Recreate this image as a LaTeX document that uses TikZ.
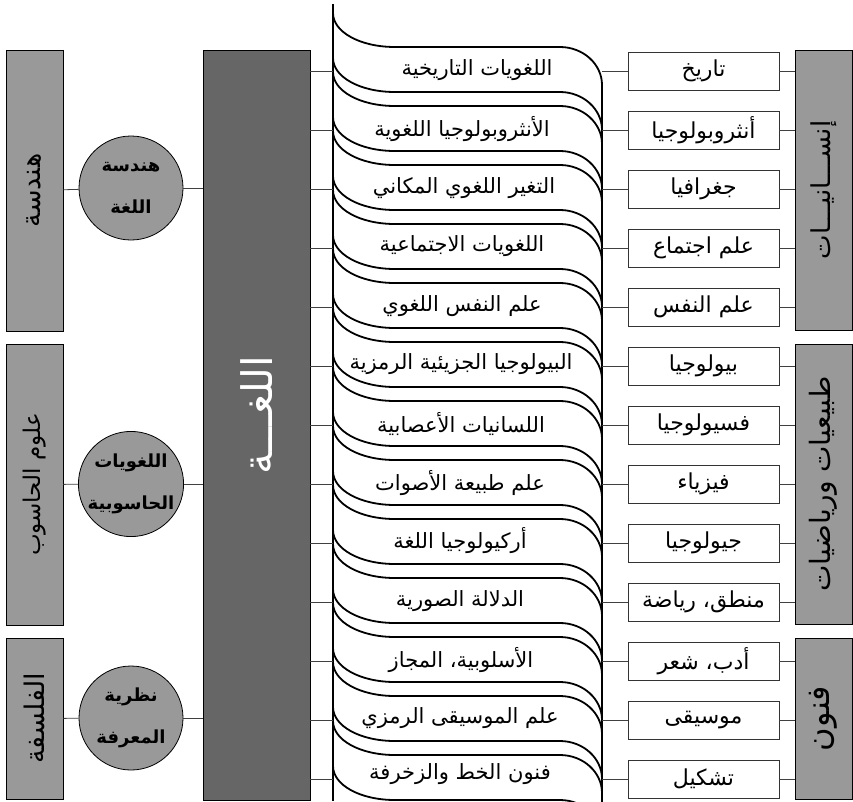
\documentclass[tikz,border=0pt]{standalone}
\usepackage{fontspec}
\usepackage{tikz}
\newfontfamily\arabicfont[Script=Arabic]{DejaVu Sans}
\TeXXeTstate=1
\definecolor{langgray}{RGB}{102,102,102}
\definecolor{fieldgray}{RGB}{153,153,153}
\newcommand{\artext}[1]{\beginR #1\endR}

\begin{document}
\begin{tikzpicture}[x=1pt,y=-1pt,
	bar/.style={draw=black, fill=fieldgray, line width=0.8pt, minimum width=57pt, inner sep=0pt},
	barlabel/.style={rotate=90, font=\arabicfont\fontsize{23}{26}\selectfont},
	hub/.style={circle, draw=black, fill=fieldgray, line width=0.8pt, minimum size=104pt, inner sep=0pt, align=center, font=\arabicfont\bfseries\fontsize{18}{42}\selectfont},
	subject/.style={draw=black!80, fill=white, line width=0.8pt, minimum width=151pt, minimum height=38pt, inner sep=0pt, font=\arabicfont\fontsize{22}{24}\selectfont},
	bandtext/.style={font=\arabicfont\fontsize{21}{24}\selectfont},
	link/.style={black!75, line width=0.8pt},
	bandline/.style={black, line width=1.8pt},
	band/.pic={\draw[bandline] (0,-58) .. controls (0,-39) and (27,-24) .. (62,-24) -- (227,-24) .. controls (250,-24) and (269,-7) .. (269,14) -- (269,59) .. controls (269,38) and (250,21) .. (227,21) -- (62,21) .. controls (27,21) and (0,6) .. (0,-13) -- cycle;}]
	\useasboundingbox (0,0) rectangle (853,801);
	\clip (0,0) rectangle (853,801);

	% left bars and hubs
	\node[bar, minimum height=281pt] (eng) at (34.5,190.5) {};
	\node[bar, minimum height=281pt] (comp) at (34.5,484.5) {};
	\node[bar, minimum height=161pt] (phil) at (34.5,718.5) {};
	\node[barlabel, font=\arabicfont\fontsize{27}{30}\selectfont] (engl) at (eng.center) {\artext{هندسة}};
	\node[barlabel] (compl) at (comp.center) {\artext{علوم الحاسوب}};
	\node[barlabel, font=\arabicfont\fontsize{27}{30}\selectfont] (phill) at (phil.center) {\artext{الفلسفة}};
	\node[hub] (h1) at (131,188) {\artext{هندسة}\\\artext{اللغة}};
	\node[hub] (h2) at (131,484) {\artext{اللغويات}\\\artext{الحاسوبية}};
	\node[hub] (h3) at (131,718) {\artext{نظرية}\\\artext{المعرفة}};
	\node[draw=black, fill=langgray, line width=0.8pt, minimum width=107pt, minimum height=750pt, inner sep=0pt] (lang) at (256.5,425) {};
	\node[rotate=90, text=white, font=\arabicfont\fontsize{42}{46}\selectfont] (langl) at (256.5,415) {\artext{اللغـــة}};

	\draw[link] (eng) -- (h1);
	\draw[link] (h1) -- (lang.west |- h1);
	\draw[link] (comp) -- (h2);
	\draw[link] (h2) -- (lang.west |- h2);
	\draw[link] (phil) -- (h3);
	\draw[link] (h3) -- (lang.west |- h3);

	% right bars
	\node[bar, minimum height=280pt] (hum) at (823.5,190) {};
	\node[bar, minimum height=280pt] (nat) at (823.5,484) {};
	\node[bar, minimum height=161pt] (arts) at (823.5,718.5) {};
	\node[barlabel, font=\arabicfont\fontsize{26}{30}\selectfont] (huml) at (hum.center) {\artext{إنســـانيـــات}};
	\node[barlabel, font=\arabicfont\fontsize{28}{30}\selectfont] (natl) at (nat.center) {\artext{طبيعيات ورياضيات}};
	\node[barlabel, font=\arabicfont\fontsize{32}{34}\selectfont] (artsl) at (arts.center) {\artext{فنون}};

	% subjects
	\node[subject] (s1) at (703.5,71) {\artext{تاريخ}};
	\node[subject] (s2) at (703.5,130) {\artext{أنثروبولوجيا}};
	\node[subject] (s3) at (703.5,189) {\artext{جغرافيا}};
	\node[subject] (s4) at (703.5,248) {\artext{علم اجتماع}};
	\node[subject] (s5) at (703.5,307) {\artext{علم النفس}};
	\node[subject] (s6) at (703.5,366) {\artext{بيولوجيا}};
	\node[subject] (s7) at (703.5,425) {\artext{فسيولوجيا}};
	\node[subject] (s8) at (703.5,484) {\artext{فيزياء}};
	\node[subject] (s9) at (703.5,543) {\artext{جيولوجيا}};
	\node[subject] (s10) at (703.5,602) {\artext{منطق، رياضة}};
	\node[subject] (s11) at (703.5,661) {\artext{أدب، شعر}};
	\node[subject] (s12) at (703.5,720) {\artext{موسيقى}};
	\node[subject] (s13) at (703.5,779) {\artext{تشكيل}};

	% band ends
	\coordinate (l1) at (333,71);   \coordinate (r1) at (602,71);
	\coordinate (l2) at (333,130);  \coordinate (r2) at (602,130);
	\coordinate (l3) at (333,189);  \coordinate (r3) at (602,189);
	\coordinate (l4) at (333,248);  \coordinate (r4) at (602,248);
	\coordinate (l5) at (333,307);  \coordinate (r5) at (602,307);
	\coordinate (l6) at (333,366);  \coordinate (r6) at (602,366);
	\coordinate (l7) at (333,425);  \coordinate (r7) at (602,425);
	\coordinate (l8) at (333,484);  \coordinate (r8) at (602,484);
	\coordinate (l9) at (333,543);  \coordinate (r9) at (602,543);
	\coordinate (l10) at (333,602); \coordinate (r10) at (602,602);
	\coordinate (l11) at (333,661); \coordinate (r11) at (602,661);
	\coordinate (l12) at (333,720); \coordinate (r12) at (602,720);
	\coordinate (l13) at (333,779); \coordinate (r13) at (602,779);

	% bands
	\draw[bandline] (333,4) -- (333,801);
	\draw[bandline] (602,85) -- (602,801);
	\pic at (l1) {band};
	\pic at (l2) {band};
	\pic at (l3) {band};
	\pic at (l4) {band};
	\pic at (l5) {band};
	\pic at (l6) {band};
	\pic at (l7) {band};
	\pic at (l8) {band};
	\pic at (l9) {band};
	\pic at (l10) {band};
	\pic at (l11) {band};
	\pic at (l12) {band};
	\pic at (l13) {band};

	\node[bandtext] (b1) at (477,70) {\artext{اللغويات التاريخية}};
	\node[bandtext] (b2) at (462,129) {\artext{الأنثروبولوجيا اللغوية}};
	\node[bandtext] (b3) at (464,188) {\artext{التغير اللغوي المكاني}};
	\node[bandtext] (b4) at (462,246) {\artext{اللغويات الاجتماعية}};
	\node[bandtext] (b5) at (462,306) {\artext{علم النفس اللغوي}};
	\node[bandtext] (b6) at (461,364) {\artext{البيولوجيا الجزيئية الرمزية}};
	\node[bandtext] (b7) at (461,424) {\artext{اللسانيات الأعصابية}};
	\node[bandtext] (b8) at (460,483) {\artext{علم طبيعة الأصوات}};
	\node[bandtext] (b9) at (460,541) {\artext{أركيولوجيا اللغة}};
	\node[bandtext] (b10) at (460,601) {\artext{الدلالة الصورية}};
	\node[bandtext] (b11) at (461,660) {\artext{الأسلوبية، المجاز}};
	\node[bandtext] (b12) at (460,718) {\artext{علم الموسيقى الرمزي}};
	\node[bandtext] (b13) at (460,774) {\artext{فنون الخط والزخرفة}};

	% row 1 to row 13
	\draw[link] (lang.east |- l1) -- (l1);   \draw[link] (r1) -- (s1);   \draw[link] (s1) -- (hum.west |- s1);
	\draw[link] (lang.east |- l2) -- (l2);   \draw[link] (r2) -- (s2);   \draw[link] (s2) -- (hum.west |- s2);
	\draw[link] (lang.east |- l3) -- (l3);   \draw[link] (r3) -- (s3);   \draw[link] (s3) -- (hum.west |- s3);
	\draw[link] (lang.east |- l4) -- (l4);   \draw[link] (r4) -- (s4);   \draw[link] (s4) -- (hum.west |- s4);
	\draw[link] (lang.east |- l5) -- (l5);   \draw[link] (r5) -- (s5);   \draw[link] (s5) -- (hum.west |- s5);
	\draw[link] (lang.east |- l6) -- (l6);   \draw[link] (r6) -- (s6);   \draw[link] (s6) -- (nat.west |- s6);
	\draw[link] (lang.east |- l7) -- (l7);   \draw[link] (r7) -- (s7);   \draw[link] (s7) -- (nat.west |- s7);
	\draw[link] (lang.east |- l8) -- (l8);   \draw[link] (r8) -- (s8);   \draw[link] (s8) -- (nat.west |- s8);
	\draw[link] (lang.east |- l9) -- (l9);   \draw[link] (r9) -- (s9);   \draw[link] (s9) -- (nat.west |- s9);
	\draw[link] (lang.east |- l10) -- (l10); \draw[link] (r10) -- (s10); \draw[link] (s10) -- (nat.west |- s10);
	\draw[link] (lang.east |- l11) -- (l11); \draw[link] (r11) -- (s11); \draw[link] (s11) -- (arts.west |- s11);
	\draw[link] (lang.east |- l12) -- (l12); \draw[link] (r12) -- (s12); \draw[link] (s12) -- (arts.west |- s12);
	\draw[link] (lang.east |- l13) -- (l13); \draw[link] (r13) -- (s13); \draw[link] (s13) -- (arts.west |- s13);
\end{tikzpicture}
\end{document}
